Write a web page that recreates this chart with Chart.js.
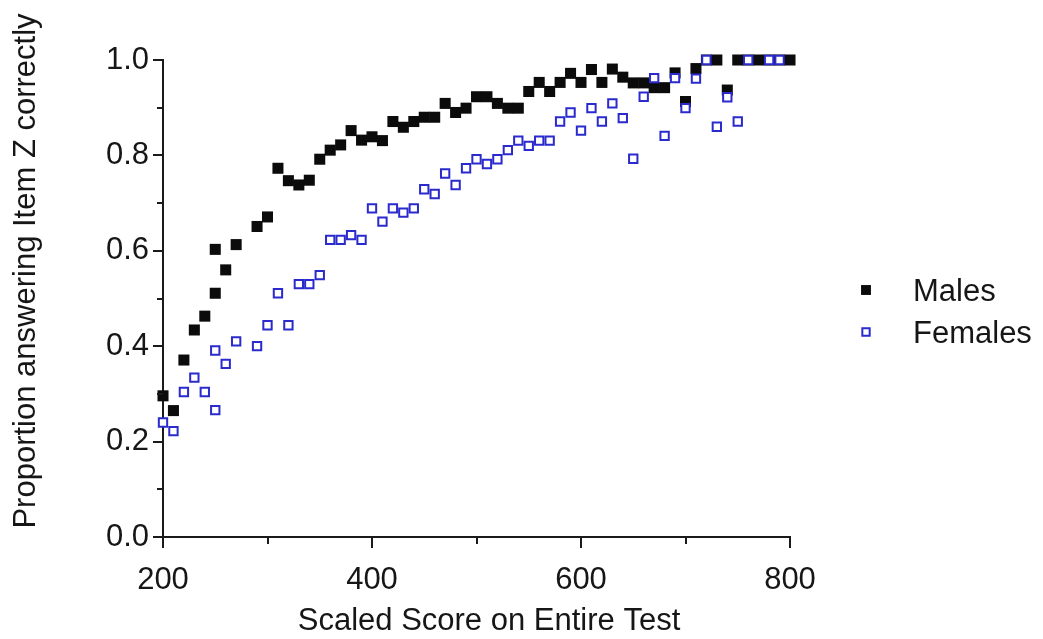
<!DOCTYPE html>
<html><head><meta charset="utf-8">
<script src="https://cdn.jsdelivr.net/npm/chart.js@4/dist/chart.umd.min.js"></script>
<style>html,body{margin:0;padding:0;background:#fff;}canvas{display:block;}</style>
</head><body>
<canvas id="c" width="1043" height="639"></canvas>
<script>
// ---- data ----
const seriesNames = ['Males', 'Females'];
const maleScores = [200,210,220,230,240,250,250,260,270,290,300,310,320,330,340,350,360,370,380,390,400,410,420,430,440,450,460,470,480,490,500,510,520,530,540,550,560,570,580,590,600,610,620,630,640,650,660,670,680,690,700,710,720,730,740,750,760,770,780,790,800];
const maleProps  = [0.296,0.265,0.371,0.434,0.463,0.511,0.603,0.560,0.613,0.651,0.671,0.773,0.747,0.738,0.748,0.792,0.811,0.822,0.852,0.832,0.839,0.831,0.871,0.859,0.871,0.880,0.880,0.909,0.890,0.899,0.923,0.923,0.909,0.899,0.899,0.934,0.953,0.934,0.953,0.972,0.953,0.980,0.953,0.981,0.964,0.952,0.952,0.942,0.942,0.973,0.913,0.982,1.0,1.0,0.937,1.0,1.0,1.0,1.0,1.0,1.0];
const femaleScores = [200,210,220,230,240,250,250,260,270,290,300,310,320,330,340,350,360,370,380,390,400,410,420,430,440,450,460,470,480,490,500,510,520,530,540,550,560,570,580,590,600,610,620,630,640,650,660,670,680,690,700,710,720,730,740,750,760,780,790];
const femaleProps  = [0.240,0.222,0.304,0.334,0.304,0.266,0.391,0.363,0.410,0.400,0.444,0.511,0.444,0.530,0.530,0.549,0.623,0.623,0.633,0.623,0.689,0.661,0.689,0.680,0.689,0.729,0.719,0.762,0.738,0.773,0.792,0.782,0.792,0.811,0.831,0.820,0.831,0.831,0.871,0.890,0.852,0.899,0.871,0.909,0.878,0.793,0.923,0.962,0.841,0.962,0.899,0.961,1.0,0.860,0.922,0.871,1.0,1.0,1.0];
const xMajorTicks = [200, 400, 600, 800];
const yMajorTicks = [0.0, 0.2, 0.4, 0.6, 0.8, 1.0];
const xTitle = 'Scaled Score on Entire Test';
const yTitle = 'Proportion answering Item Z correctly';

// ---- styling ----
const FONT = '"Liberation Sans", Arial, Helvetica, sans-serif';
const TEXT = '#161616';
const AXIS = '#1a1a1a';
const BLACK = '#0b0b0b';
const BLUE = 'rgb(42,42,205)';

const toPoints = (xs, ys) => xs.map((x, i) => ({x: x, y: ys[i]}));
const isMajorX = v => xMajorTicks.some(t => Math.abs(t - v) < 1e-6);
const isMajorY = v => yMajorTicks.some(t => Math.abs(t - v) < 1e-6);

const extras = {
  id: 'extras',
  afterDraw(chart) {
    const {ctx, chartArea, scales} = chart;
    ctx.save();
    ctx.strokeStyle = AXIS;
    ctx.lineWidth = 2;
    // minor tick marks (shorter)
    scales.y.ticks.forEach(t => {
      if (!isMajorY(t.value)) {
        const py = Math.round(scales.y.getPixelForValue(t.value));
        ctx.beginPath(); ctx.moveTo(chartArea.left - 6, py); ctx.lineTo(chartArea.left, py); ctx.stroke();
      }
    });
    scales.x.ticks.forEach(t => {
      if (!isMajorX(t.value)) {
        const px = Math.round(scales.x.getPixelForValue(t.value));
        ctx.beginPath(); ctx.moveTo(px, chartArea.bottom); ctx.lineTo(px, chartArea.bottom + 7); ctx.stroke();
      }
    });
    // axis titles
    ctx.fillStyle = TEXT;
    ctx.font = '31px ' + FONT;
    ctx.textAlign = 'center';
    ctx.textBaseline = 'middle';
    ctx.fillText(xTitle, 489, 621);
    ctx.save();
    ctx.translate(26, 271);
    ctx.rotate(-Math.PI / 2);
    ctx.fillText(yTitle, 0, 0);
    ctx.restore();
    // legend
    const ds = chart.data.datasets;
    const rows = [291, 333];
    ctx.textAlign = 'left';
    ds.forEach((d, i) => {
      ctx.beginPath();
      const r = i === 0 ? 7 : 5.2;
      const s = r * Math.SQRT1_2;
      ctx.rect(866 - s, rows[i] - 1 - s, 2 * s, 2 * s);
      if (i === 0) { ctx.fillStyle = d.backgroundColor; ctx.fill(); }
      else { ctx.fillStyle = '#fff'; ctx.fill(); ctx.lineWidth = d.borderWidth; ctx.strokeStyle = d.borderColor; ctx.stroke(); }
      ctx.fillStyle = TEXT;
      ctx.font = '31px ' + FONT;
      ctx.textBaseline = 'middle';
      ctx.fillText(seriesNames[i], 913, rows[i] + 1);
    });
    ctx.restore();
  }
};

new Chart(document.getElementById('c'), {
  type: 'scatter',
  data: {
    datasets: [
      { label: seriesNames[0], data: toPoints(maleScores, maleProps), pointStyle: 'rect',
        pointRadius: 7.8, pointHoverRadius: 7.8, backgroundColor: BLACK, borderColor: BLACK, borderWidth: 0, order: 1, clip: false },
      { label: seriesNames[1], data: toPoints(femaleScores, femaleProps), pointStyle: 'rect',
        pointRadius: 5.9, pointHoverRadius: 5.9, backgroundColor: '#ffffff', borderColor: BLUE, borderWidth: 2, order: 0, clip: false }
    ]
  },
  options: {
    responsive: false,
    animation: false,
    devicePixelRatio: 1,
    layout: { padding: { top: 60, right: 253, left: 0, bottom: 0 } },
    plugins: { legend: { display: false }, tooltip: { enabled: false } },
    scales: {
      x: {
        type: 'linear', position: 'bottom', min: 200, max: 800,
        afterFit: s => { s.height = 102; },
        ticks: {
          stepSize: 100, autoSkip: false, maxRotation: 0, padding: 14,
          color: TEXT, font: { family: FONT, size: 31 },
          callback: v => isMajorX(v) ? String(v) : ''
        },
        grid: { drawOnChartArea: false, drawTicks: true, tickLength: 11, lineWidth: 2,
          color: c => (c.tick && isMajorX(c.tick.value)) ? AXIS : 'rgba(0,0,0,0)' },
        border: { display: true, color: AXIS, width: 2 },
        title: { display: false }
      },
      y: {
        type: 'linear', min: 0, max: 1,
        afterFit: s => { s.width = 163; },
        ticks: {
          stepSize: 0.1, autoSkip: false, padding: 4,
          color: TEXT, font: { family: FONT, size: 31 },
          callback: v => isMajorY(v) ? (Math.round(v * 10) / 10).toFixed(1) : ''
        },
        grid: { drawOnChartArea: false, drawTicks: true, tickLength: 10, lineWidth: 2,
          color: c => (c.tick && isMajorY(c.tick.value)) ? AXIS : 'rgba(0,0,0,0)' },
        border: { display: true, color: AXIS, width: 2 },
        title: { display: false }
      }
    }
  },
  plugins: [extras]
});
</script>
</body></html>
